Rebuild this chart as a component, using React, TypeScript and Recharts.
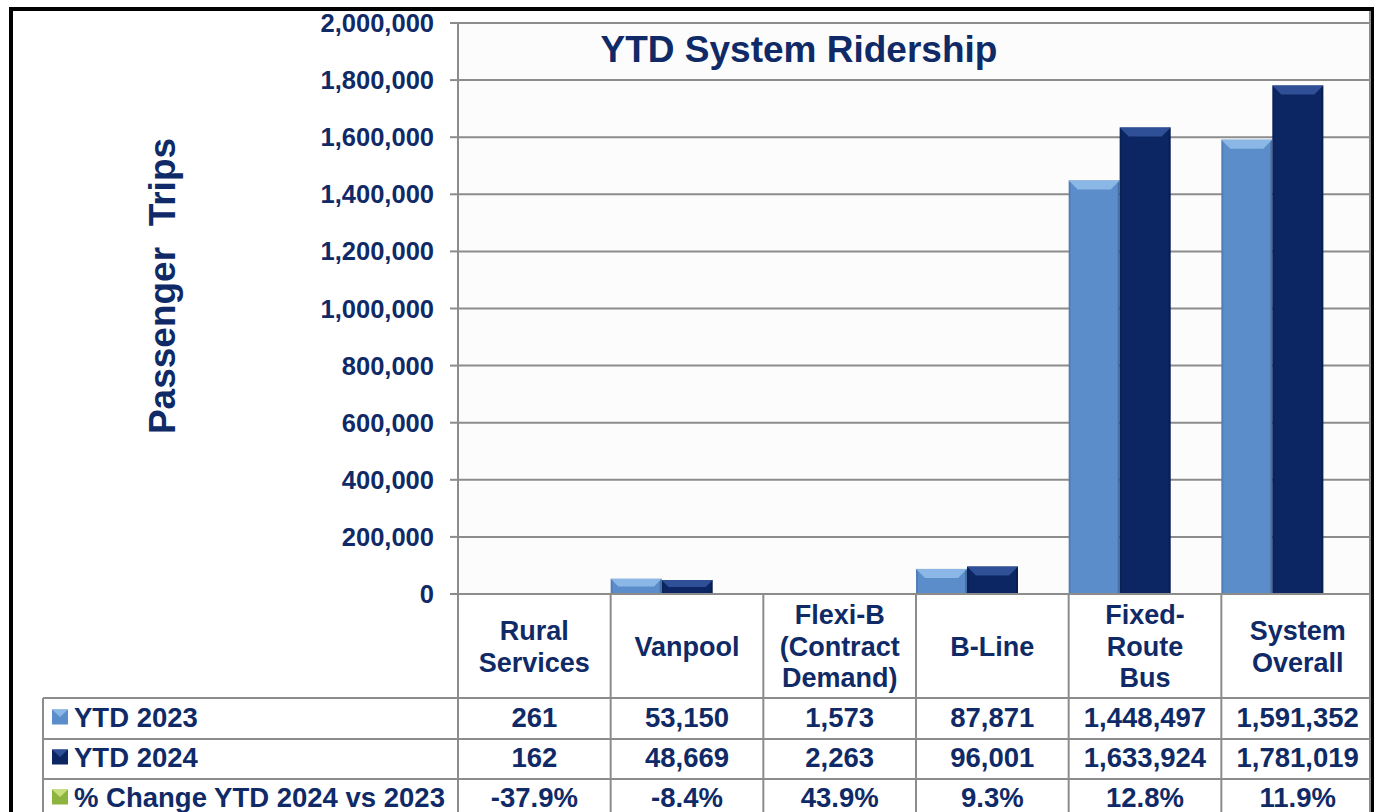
import { BarChart, Bar, XAxis, YAxis, CartesianGrid } from 'recharts';

const categories = [
  'Rural\nServices',
  'Vanpool',
  'Flexi-B\n(Contract\nDemand)',
  'B-Line',
  'Fixed-\nRoute\nBus',
  'System\nOverall',
];
const ytd2023 = [261, 53150, 1573, 87871, 1448497, 1591352];
const ytd2024 = [162, 48669, 2263, 96001, 1633924, 1781019];
const pctChange = [-37.9, -8.4, 43.9, 9.3, 12.8, 11.9];
const yTicks = [0, 200000, 400000, 600000, 800000, 1000000, 1200000, 1400000, 1600000, 1800000, 2000000];
const seriesNames = ['YTD 2023', 'YTD 2024', '% Change YTD 2024 vs 2023'];

const data = categories.map((name, i) => ({
  name,
  y2023: ytd2023[i],
  y2024: ytd2024[i],
  pct: pctChange[i] / 100,
}));

// layout
const W = 1374;
const H = 812;
const PLOT_LEFT = 458;
const PLOT_TOP = 23;
const PLOT_BOTTOM = 594;
const BAND = (W - PLOT_LEFT) / categories.length;
const TABLE_LEFT = 43;
const ROW_LINES = [698, 739, 779];
const ROW_CENTERS = [717, 757, 797];
const FONT = '"Liberation Sans", Arial, Helvetica, sans-serif';
const NAVY = '#0f2a66';
const GRID = '#8c8c8c';

const LIGHT = '#5b8dcb';
const LIGHT_CAP = '#8bb7e6';
const DARK = '#0b2663';
const DARK_CAP = '#2f5096';
const GREEN = '#8db43e';
const GREEN_CAP = '#c6e07c';

const keyColors = [
  [LIGHT, LIGHT_CAP],
  [DARK, DARK_CAP],
  [GREEN, GREEN_CAP],
];

function BevelBar(props: any) {
  const { x, y, width, height, fill, cap } = props;
  if (!height || height <= 0.5 || width <= 0) return null;
  const b = Math.min(9, height / 2, width / 4);
  return (
    <g>
      <rect x={x} y={y} width={width} height={height} fill={fill} />
      <rect x={x} y={y} width={2} height={height} fill="#000" opacity={0.1} />
      <rect x={x + width - 2} y={y} width={2} height={height} fill="#000" opacity={0.2} />
      <polygon
        points={`${x},${y} ${x + width},${y} ${x + width - b},${y + b} ${x + b},${y + b}`}
        fill={cap}
      />
    </g>
  );
}

function TableTick(props: any) {
  const { x, y, payload } = props;
  const i = categories.indexOf(payload.value);
  const lines = String(payload.value).split('\n');
  const left = x - BAND / 2;
  const headerCenter = (y + ROW_LINES[0]) / 2;
  const values = [
    ytd2023[i].toLocaleString('en-US'),
    ytd2024[i].toLocaleString('en-US'),
    `${pctChange[i].toFixed(1)}%`,
  ];
  return (
    <g>
      <line x1={left} x2={left} y1={y} y2={H} stroke={GRID} strokeWidth={2} />
      {lines.map((t, k) => (
        <text
          key={k}
          x={x}
          y={headerCenter + (k - (lines.length - 1) / 2) * 31.5 + 9.8}
          textAnchor="middle"
          fill={NAVY}
          fontSize={27}
          fontWeight={700}
          fontFamily={FONT}
        >
          {t}
        </text>
      ))}
      {values.map((v, k) => (
        <text
          key={`v${k}`}
          x={x}
          y={ROW_CENTERS[k] + 9.8}
          textAnchor="middle"
          fill={NAVY}
          fontSize={27.5}
          fontWeight={700}
          fontFamily={FONT}
        >
          {v}
        </text>
      ))}
    </g>
  );
}

export default function App() {
  return (
    <div style={{ position: 'absolute', left: 0, top: 0, width: W, height: H, background: '#fff', overflow: 'hidden' }}>
      <BarChart
        width={W}
        height={H}
        data={data}
        margin={{ top: PLOT_TOP, right: 0, bottom: 0, left: 0 }}
        barCategoryGap={0}
        barGap={0}
      >
        <CartesianGrid vertical={false} stroke={GRID} strokeWidth={2} fill="#fcfcfc" />
        <XAxis
          dataKey="name"
          height={H - PLOT_BOTTOM}
          interval={0}
          tickSize={0}
          tickMargin={0}
          tick={<TableTick />}
          axisLine={{ stroke: GRID, strokeWidth: 2 }}
        />
        <YAxis
          width={PLOT_LEFT}
          domain={[0, 2000000]}
          ticks={yTicks}
          allowDataOverflow
          tickFormatter={(v) => v.toLocaleString('en-US')}
          tickSize={8}
          tickMargin={16}
          tick={{ fill: NAVY, fontSize: 25.5, fontWeight: 700, fontFamily: FONT }}
          tickLine={{ stroke: GRID, strokeWidth: 2 }}
          axisLine={{ stroke: GRID, strokeWidth: 2 }}
        />
        <Bar dataKey="y2023" name={seriesNames[0]} fill={LIGHT} isAnimationActive={false}
          shape={(p: any) => <BevelBar {...p} fill={LIGHT} cap={LIGHT_CAP} />} />
        <Bar dataKey="y2024" name={seriesNames[1]} fill={DARK} isAnimationActive={false}
          shape={(p: any) => <BevelBar {...p} fill={DARK} cap={DARK_CAP} />} />
        <Bar dataKey="pct" name={seriesNames[2]} fill={GREEN} isAnimationActive={false}
          shape={(p: any) => <BevelBar {...p} fill={GREEN} cap={GREEN_CAP} />} />
      </BarChart>

      <svg width={W} height={H} style={{ position: 'absolute', left: 0, top: 0, pointerEvents: 'none' }}>
        <text x={799} y={62} textAnchor="middle" fill={NAVY} fontSize={37} fontWeight={700} fontFamily={FONT}>
          YTD System Ridership
        </text>
        <text
          x={162}
          y={286}
          transform="rotate(-90 162 286)"
          textAnchor="middle"
          dominantBaseline="central"
          fill={NAVY}
          fontSize={37}
          fontWeight={700}
          fontFamily={FONT}
          style={{ whiteSpace: 'pre' }}
        >
          {'Passenger  Trips'}
        </text>

        {ROW_LINES.map((ly) => (
          <line key={ly} x1={TABLE_LEFT} x2={W} y1={ly} y2={ly} stroke={GRID} strokeWidth={2} />
        ))}
        <line x1={TABLE_LEFT} x2={TABLE_LEFT} y1={ROW_LINES[0]} y2={H} stroke={GRID} strokeWidth={2} />

        {seriesNames.map((s, k) => {
          const cy = ROW_CENTERS[k];
          const [c, cap] = keyColors[k];
          return (
            <g key={s}>
              <rect x={52} y={cy - 7.5} width={16} height={15} fill={c} />
              <polygon points={`52,${cy - 7.5} 68,${cy - 7.5} 60,${cy}`} fill={cap} />
              <text x={74} y={cy + 9.8} fill={NAVY} fontSize={27.5} fontWeight={700} fontFamily={FONT}>
                {s}
              </text>
            </g>
          );
        })}

        <line x1={1370} x2={1370} y1={10} y2={H} stroke={GRID} strokeWidth={2} />
        <rect x={11} y={9} width={1362} height={900} fill="none" stroke="#000" strokeWidth={4} />
      </svg>
    </div>
  );
}
